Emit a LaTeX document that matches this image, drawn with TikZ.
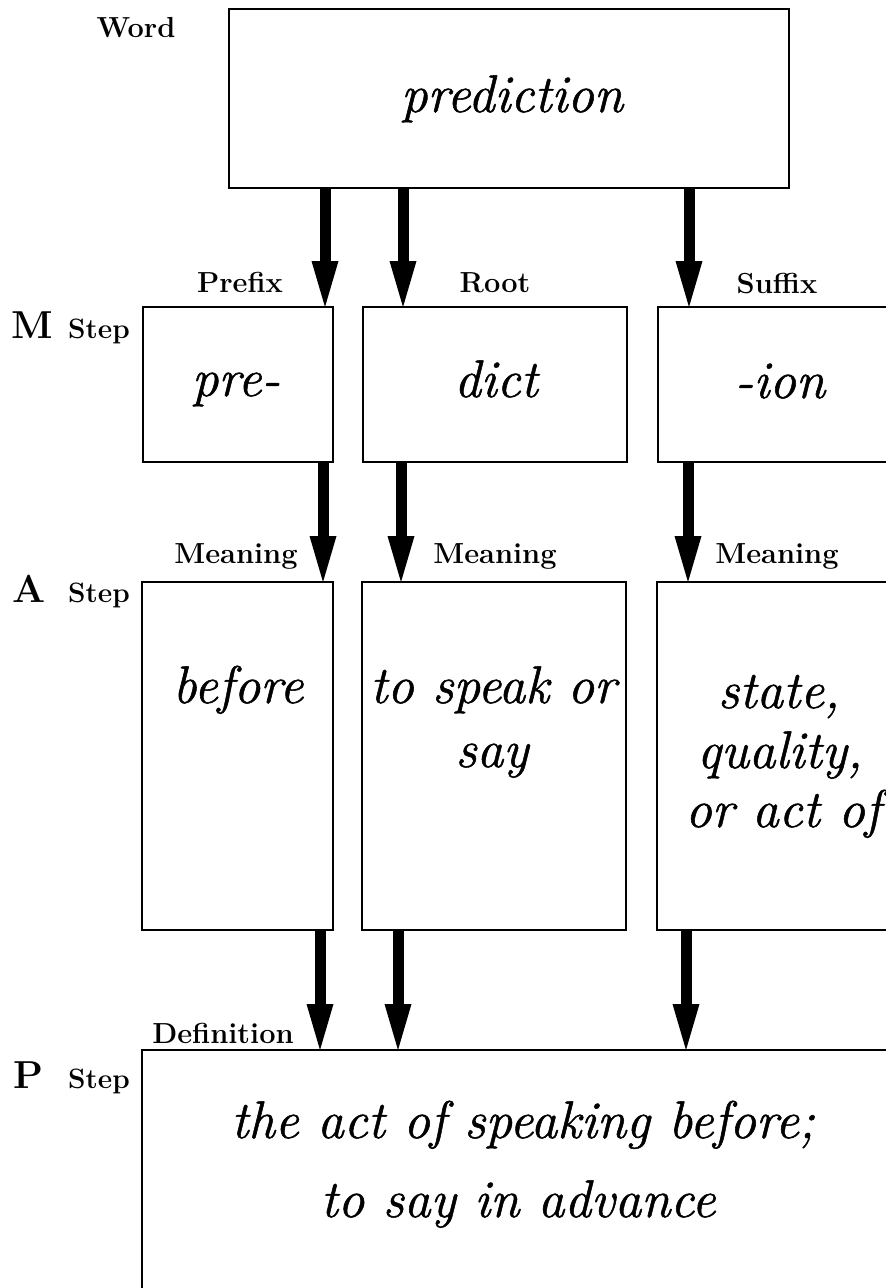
\documentclass[tikz,border=0pt]{standalone}
\usepackage{fontspec}
\usetikzlibrary{arrows.meta}
\newfontfamily\entryfont{lmroman12-italic.otf}[FakeBold=1]
\tikzset{
  box/.style={draw, line width=2pt, rectangle, inner sep=0pt, outer sep=0pt},
  flow/.style={line width=11pt, -{Triangle[length=46pt,width=27pt,line width=0pt]}},
  entry/.style={inner sep=0pt, anchor=base, font=\entryfont\fontsize{53}{60}\selectfont},
  tag/.style={inner sep=0pt, anchor=base, font=\fontsize{29}{32}\selectfont\bfseries},
  stepletter/.style={inner sep=0pt, anchor=base west, font=\fontsize{39}{42}\selectfont\bfseries},
  steplabel/.style={inner sep=0pt, anchor=base west, font=\fontsize{28}{32}\selectfont\bfseries},
}
\begin{document}
\begin{tikzpicture}[x=1pt, y=-1pt]
\useasboundingbox (0,0) rectangle (886,1288);

% boxes
\node[box, minimum width=560pt, minimum height=179pt] (word) at (509,98.5) {};
\node[box, minimum width=190pt, minimum height=155pt] (pre)  at (238,384.5) {};
\node[box, minimum width=264pt, minimum height=155pt] (root) at (495,384.5) {};
\node[box, minimum width=242pt, minimum height=155pt] (suf)  at (779,384.5) {};
\node[box, minimum width=191pt, minimum height=348pt] (mpre)  at (237.5,756) {};
\node[box, minimum width=264pt, minimum height=348pt] (mroot) at (494,756) {};
\node[box, minimum width=243pt, minimum height=348pt] (msuf)  at (778.5,756) {};
\node[box, minimum width=764pt, minimum height=242pt] (defn) at (524,1171) {};

% texts in the boxes
\node[entry] (tword) at (512,112) {prediction};
\node[entry] (tpre)  at (236,396) {pre-};
\node[entry] (troot) at (496,397) {dict};
\node[entry] (tsuf)  at (780,398) {-ion};
\node[entry] (tmpre)  at (238,703) {before};
\node[entry] (tmroot1) at (493,703) {to speak or};
\node[entry] (tmroot2) at (492,767) {say};
\node[entry] (tmsuf1) at (779,708) {state,};
\node[entry] (tmsuf2) at (780,768) {quality,};
\node[entry] (tmsuf3) at (783,827) {or act of};
\node[entry] (tdef1) at (523,1138) {the act of speaking before;};
\node[entry] (tdef2) at (518,1217) {to say in advance};

% labels
\node[tag] (lword) at (136,37) {Word};
\node[tag] (lpre)  at (240,292) {Prefix};
\node[tag] (lroot) at (495,292) {Root};
\node[tag] (lsuf)  at (777,293) {Suffix};
\node[tag] (lm1) at (236,563) {Meaning};
\node[tag] (lm2) at (495,563) {Meaning};
\node[tag] (lm3) at (777,563) {Meaning};
\node[tag] (ldef) at (223,1043) {Definition};

\node[stepletter] (sm) at (11,338) {M};
\node[steplabel] (smt) at (68,338) {Step};
\node[stepletter] (sa) at (12,602) {A};
\node[steplabel] (sat) at (68,602) {Step};
\node[stepletter] (sp) at (13,1088) {P};
\node[steplabel] (spt) at (68,1088) {Step};

% arrow columns
\coordinate (r1a) at (325,0); \coordinate (r1b) at (403,0); \coordinate (r1c) at (689,0);
\coordinate (r2a) at (323,0); \coordinate (r2b) at (401,0); \coordinate (r2c) at (688,0);
\coordinate (r3a) at (320,0); \coordinate (r3b) at (398,0); \coordinate (r3c) at (686,0);

% arrows
\draw[flow] (word.south -| r1a) -- (pre.north -| r1a);
\draw[flow] (word.south -| r1b) -- (root.north -| r1b);
\draw[flow] (word.south -| r1c) -- (suf.north -| r1c);
\draw[flow] (pre.south -| r2a) -- (mpre.north -| r2a);
\draw[flow] (root.south -| r2b) -- (mroot.north -| r2b);
\draw[flow] (suf.south -| r2c) -- (msuf.north -| r2c);
\draw[flow] (mpre.south -| r3a) -- (defn.north -| r3a);
\draw[flow] (mroot.south -| r3b) -- (defn.north -| r3b);
\draw[flow] (msuf.south -| r3c) -- (defn.north -| r3c);
\end{tikzpicture}
\end{document}
